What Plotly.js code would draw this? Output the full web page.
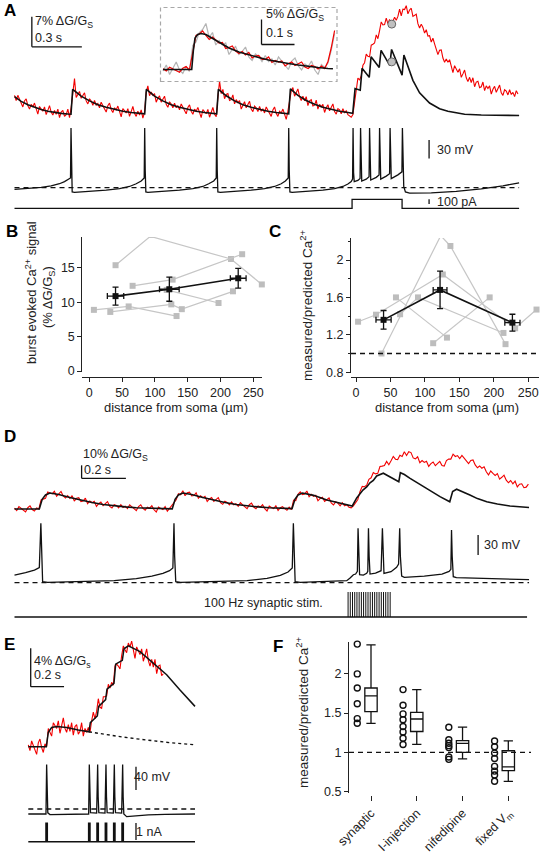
<!DOCTYPE html>
<html><head><meta charset="utf-8">
<script src="https://cdn.plot.ly/plotly-3.0.1.min.js"></script>
<style>html,body{margin:0;padding:0;background:#fff}#chart{width:540px;height:853px}</style>
</head><body><div id="chart"></div>
<script>
// ================= DATA =================
// ---- Panel A : calcium signal (% dG/Gs), sampled every aDt s ----
const aDt = 0.01;
const aRed = [4.7,3.5,4.7,3.7,2.9,2.0,3.4,3.9,2.3,1.5,2.6,2.0,2.9,1.3,0.3,2.1,1.5,1.0,2.0,0.2,1.2,2.3,0.8,0.1,1.2,0.3,1.5,-0.5,0.8,1.2,-0.2,0.2,1.5,-0.5,
 1.9,6.0,8.6,4.2,5.1,5.6,4.0,4.6,5.3,3.4,2.7,3.9,3.4,2.4,3.5,2.4,2.8,1.8,3.1,2.3,1.6,0.8,2.3,2.9,1.4,0.7,1.8,1.3,2.2,0.6,
 -0.3,1.6,1.0,0.6,1.6,-0.2,0.9,2.1,0.5,-0.2,1.0,0.1,1.3,-0.6,0.7,
 5.4,6.9,4.6,5.5,4.7,5.1,3.1,4.0,4.6,3.1,3.7,4.5,2.6,1.9,3.2,2.7,1.8,2.9,1.8,2.3,1.3,2.7,1.9,1.2,0.4,1.9,2.5,1.0,0.3,1.5,
 1.0,1.9,0.4,-0.5,1.4,0.8,0.4,1.4,-0.4,0.7,1.9,0.3,-0.3,
 4.1,8.0,5.1,6.1,3.9,4.9,5.1,3.5,3.7,4.8,2.7,3.7,3.0,3.5,1.5,2.6,3.2,1.8,2.4,3.3,1.5,0.9,2.2,1.8,0.9,2.1,1.0,1.5,0.6,2.0,
 1.2,0.5,-0.2,1.3,2.0,0.5,-0.2,1.0,0.6,1.5,0.0,-0.9,1.0,
 3.6,5.7,6.5,4.5,5.3,6.2,4.4,3.5,4.5,3.4,4.4,2.3,3.4,3.7,2.2,2.4,3.6,1.5,2.6,2.0,2.6,0.7,1.8,2.5,1.1,1.8,2.7,0.9,0.3,1.6,
 1.3,0.4,1.6,0.6,1.1,0.2,-0.2,-0.4,0.2,
 3.4,6.5,8.7,8.3,9.2,11.7,12.3,14.3,13.8,13.7,16.4,16.6,16.9,18.8,17.9,19.8,21.8,21.1,21.2,22.7,
 21.4,22.4,20.4,22.0,22.9,22.2,23.1,24.8,23.2,24.8,24.7,25.6,23.7,24.6,25.0,23.1,23.3,23.6,21.4,20.4,
 21.3,20.5,19.2,20.0,18.5,18.6,17.1,18.0,16.7,15.5,14.2,15.2,15.3,13.4,12.4,13.2,12.4,13.0,11.1,10.0,
 11.6,10.8,10.1,10.9,8.9,9.7,10.6,8.8,7.9,8.9,7.7,8.8,6.7,7.8,8.0,6.5,6.7,7.8,5.8,6.9,
 6.3,6.9,5.0,6.1,6.8,5.4,6.2,7.1,5.3,4.7,6.0,5.7,4.8,6.0,4.9,5.4,4.4,5.8,5.0];
// model prediction [time s, % dG/Gs]
const aModel = [[0,4.4],[0.04,3.3],[0.08,2.5],[0.12,1.9],[0.16,1.4],[0.2,1.0],[0.24,0.7],[0.28,0.5],[0.32,0.35],[0.339,0.3],
 [0.349,6.1],[0.4,4.5],[0.45,3.4],[0.5,2.5],[0.55,1.9],[0.6,1.4],[0.65,1.0],[0.7,0.7],[0.75,0.5],[0.781,0.4],
 [0.791,6.1],[0.84,4.5],[0.89,3.4],[0.94,2.5],[0.99,1.9],[1.04,1.4],[1.09,1.0],[1.14,0.7],[1.19,0.5],[1.213,0.4],
 [1.223,6.1],[1.27,4.6],[1.32,3.4],[1.37,2.5],[1.42,1.9],[1.47,1.4],[1.52,1.0],[1.57,0.7],[1.62,0.5],[1.645,0.4],
 [1.655,6.2],[1.70,4.7],[1.75,3.5],[1.80,2.6],[1.85,1.9],[1.90,1.4],[1.95,1.0],[2.0,0.7],[2.029,0.5],
 [2.043,6.3],[2.074,5.9],[2.085,11.0],[2.128,8.9],[2.139,13.7],[2.188,11.2],[2.199,15.2],[2.251,11.7],[2.262,15.4],
 [2.325,9.4],[2.336,14.1],[2.36,11.6],[2.39,8.2],[2.43,5.3],[2.49,2.9],[2.55,1.6],[2.6,1.0],[2.7,0.3],[2.8,0.1],[3.027,0]];
const aCircleT = [2.263, 2.263];
const aCircleV = [21.3, 12.5];
// membrane potential [s, mV]
const aVm = [[0,-72.6],[0.08,-71.5],[0.16,-69.5],[0.22,-67],[0.27,-63.5],[0.30,-60],[0.325,-56.5],[0.336,-54],[0.339,28],[0.342,-40],[0.346,-77],
 [0.36,-77.5],[0.45,-76],[0.55,-74],[0.63,-71.5],[0.69,-68],[0.73,-63.5],[0.76,-59],[0.778,-54],[0.781,28],[0.784,-40],[0.788,-77],
 [0.80,-77.5],[0.89,-76],[0.99,-74],[1.07,-71.5],[1.13,-68],[1.165,-63.5],[1.195,-59],[1.21,-54],[1.213,28],[1.216,-40],[1.22,-77],
 [1.235,-77.5],[1.32,-76],[1.42,-74],[1.50,-71.5],[1.56,-68],[1.60,-63.5],[1.625,-59],[1.642,-54],[1.645,28],[1.648,-40],[1.652,-77],
 [1.665,-77.5],[1.75,-76],[1.85,-74],[1.92,-71.5],[1.97,-68],[2.0,-64],[2.02,-60],[2.028,-56],[2.031,28],[2.034,-45],[2.038,-60],
 [2.06,-58],[2.073,-55],[2.076,28],[2.079,-45],[2.083,-59],[2.11,-56],[2.127,-52],[2.130,28],[2.133,-45],[2.137,-57.5],
 [2.17,-53],[2.187,-49],[2.190,28],[2.193,-44],[2.197,-56],[2.23,-51],[2.25,-47],[2.253,28],[2.256,-43],[2.260,-55],
 [2.30,-49],[2.324,-44],[2.327,28],[2.330,-40],[2.335,-68],[2.345,-77],[2.37,-79],[2.5,-78.5],[2.65,-76],[2.8,-72],[2.93,-67],[3.027,-62]];
const aRest = -70;
// injected current [s, pA]
const aI = [[0,0],[2.025,0],[2.025,190],[2.325,190],[2.325,0],[3.027,0]];
// ---- Panel A inset (single spike, % dG/Gs, every inDt s) ----
const inDt = 0.01;
const inRed = [0.15,-0.3,0.45,0.1,-0.2,-0.55,0.25,0.6,-0.1,3.4,6.8,7.1,7.7,6.8,6.0,6.5,5.9,5.3,5.4,4.2,4.4,4.7,3.7,3.2,3.6,2.9,3.4,2.3,2.7,2.8,
 2.0,2.0,2.5,1.4,1.8,1.5,1.7,0.7,1.2,1.5,0.8,1.1,1.5,0.5,0.2,0.8,0.6,0.1,0.7,0.2,1.6,4.4,7.8];
const inGray = [-0.3,0.9,-1.0,0.2,1.5,-0.1,-0.8,0.6,-0.4,4.8,5.5,7.4,8.0,9.2,6.4,7.4,4.9,5.8,4.9,5.3,3.0,4.0,4.6,3.0,3.6,4.5,2.5,1.8,3.1,2.6,
 1.6,2.8,1.6,2.1,0.9,2.5,1.6,0.9,0.0,1.7,2.3,0.7,-0.1,1.1,0.6,1.7,-0.1,-1.0,1.0,0.4,1.3,3.9,7.2];
const inModel = [[0,0],[0.087,0],[0.092,3.8],[0.097,6.3],[0.105,7.0],[0.115,7.2],[0.13,7.0],[0.15,6.2],[0.175,5.2],[0.2,4.3],[0.23,3.5],
 [0.26,2.9],[0.29,2.4],[0.32,1.9],[0.35,1.5],[0.38,1.2],[0.41,0.9],[0.44,0.6],[0.47,0.4],[0.5,0.2],[0.515,0.15]];
// ---- Panel B : burst evoked Ca signal vs distance ----
const bCellsX = [[40,93,216,263],[66,127,233],[7,60,133],[32,125,141,219],[118,197]];
const bCellsY = [[15.4,19.6,16.3,12.6],[12.4,13.3,17.0],[8.9,9.4,8.0],[8.6,9.7,9.0,11.6],[11.8,9.9]];
const bMeanX = [40,122,227];
const bMeanY = [10.9,11.9,13.5];
const bErrY = [1.3,1.75,1.45];
const bErrX = [12.5,15,12];
// ---- Panel C : measured/predicted vs distance ----
const cCellsX = [[3,29,126,231,262],[37,123,137,217],[58,132],[64,90,214],[112,194]];
const cCellsY = [[1.34,1.415,1.845,1.27,1.47],[1.0,2.26,2.15,1.10],[1.60,1.17],[1.42,1.60,1.22],[1.11,1.60]];
const cMeanX = [40,122,227];
const cMeanY = [1.36,1.68,1.33];
const cErrY = [0.1,0.2,0.09];
const cErrX = [11,10,11];
// ---- Panel D : synaptic stimulation ----
const dDt = 0.01;
const dRed = [0.6,-1.2,1.8,0.4,-0.8,-2.2,1.0,2.4,-0.4,-1.6,0.8,0.0,
 7.0,7.5,8.2,13.0,12.5,11.6,13.6,9.8,11.6,13.5,10.0,8.4,10.3,8.1,10.3,6.1,8.3,8.7,5.7,6.1,
 8.3,4.1,6.2,4.8,5.9,2.0,4.1,5.4,2.5,3.9,5.7,2.0,0.8,3.4,2.7,0.9,3.3,1.2,2.2,0.3,
 3.2,1.7,0.3,-1.2,1.9,3.3,0.4,-0.9,1.4,0.6,2.5,-0.6,-2.3,1.5,0.5,-0.4,1.8,-1.7,0.5,2.9,
 4.8,7.1,11.8,11.0,14.1,10.2,12.6,13.0,10.0,10.3,12.4,8.2,10.1,8.7,9.7,5.7,7.7,8.9,5.9,7.1,
 8.7,4.9,3.6,6.0,5.1,3.2,5.5,3.2,4.1,2.1,4.9,3.2,1.8,0.2,3.3,4.5,1.5,0.2,2.4,1.5,
 3.4,0.3,-1.5,2.2,1.1,0.3,2.4,-1.1,1.0,1.8,0.3,-1.0,1.4,-0.5,
 6.8,6.5,11.4,13.2,11.1,11.6,13.8,9.4,11.3,9.7,10.5,6.3,8.1,9.1,5.9,7.0,8.5,4.6,3.1,5.5,4.5,2.5,4.8,2.4,3.3,1.3,0.9,
 2.4,5.2,7.3,13.5,17.4,17.1,18.4,22.8,24.0,28.0,27.0,27.4,32.7,33.0,33.4,36.6,34.0,37.1,40.4,38.3,
 38.0,41.3,40.4,44.0,41.2,44.1,43.4,39.3,38.6,40.2,35.6,37.3,35.8,36.7,32.8,34.9,36.2,33.3,34.7,36.6,
 33.4,33.0,37.2,38.4,38.4,42.2,40.4,41.1,38.8,41.2,39.2,37.2,35.0,37.3,37.7,33.9,31.7,33.1,31.4,32.5,
 28.6,26.2,29.2,27.4,25.8,27.2,23.0,24.4,26.0,22.2,20.2,21.9,19.4,21.4,17.0,19.1,19.4,16.4,16.8,19.1];
const dModel = [[0,0],[0.112,0],[0.125,7.5],[0.14,10.8],[0.16,12.3],[0.2,11.2],[0.25,8.9],[0.3,6.9],[0.35,5.0],[0.4,3.5],[0.45,2.4],
 [0.5,1.6],[0.55,1.0],[0.6,0.6],[0.65,0.3],[0.712,0.1],[0.725,7.5],[0.74,10.8],[0.76,12.3],[0.8,11.2],[0.85,8.9],[0.9,6.9],
 [0.95,5.0],[1.0,3.5],[1.05,2.4],[1.1,1.6],[1.15,1.0],[1.2,0.6],[1.253,0.3],[1.266,7.5],[1.28,10.8],[1.30,12.3],[1.35,10.5],
 [1.41,6.9],[1.47,4.2],[1.525,2.3],[1.545,8.5],[1.56,11.5],[1.573,14.6],[1.59,17.0],[1.605,20.2],[1.62,22.0],[1.635,25.4],
 [1.665,27.5],[1.70,24.0],[1.735,21.0],[1.742,27.9],[1.76,26.5],[1.786,23.6],[1.82,20.0],[1.861,15.9],[1.921,9.5],[1.965,5.6],
 [1.978,13.5],[1.996,15.2],[2.03,13.0],[2.056,10.8],[2.09,8.0],[2.132,5.6],[2.18,3.8],[2.237,2.3],[2.323,1.2]];
const dVm = [[0,-58.5],[0.05,-55],[0.09,-51],[0.112,-47.5],[0.119,19],[0.122,-30],[0.127,-68.5],[0.15,-69.5],[0.3,-68.5],[0.45,-67],
 [0.55,-64],[0.62,-60],[0.67,-56],[0.70,-52],[0.715,-48],[0.720,19],[0.723,-30],[0.728,-68.5],[0.75,-69.5],[0.9,-68.5],[1.05,-67],
 [1.14,-63.5],[1.2,-59],[1.235,-54],[1.254,-48],[1.259,19],[1.262,-30],[1.267,-68.5],[1.29,-69.5],[1.4,-68.5],[1.5,-67],[1.515,-63],
 [1.53,-58],[1.54,-57],[1.548,-53],[1.551,11.6],[1.554,-30],[1.558,-58],[1.575,-58.5],[1.59,-56],[1.595,-53],[1.598,11.6],[1.601,-30],
 [1.605,-57],[1.63,-55.5],[1.655,-52],[1.661,11.6],[1.664,-30],[1.668,-56],[1.70,-53.5],[1.725,-47],[1.734,-42],[1.739,11.6],
 [1.742,-30],[1.748,-60],[1.76,-62],[1.85,-60],[1.93,-57],[1.962,-53],[1.970,-50],[1.973,9],[1.976,-30],[1.981,-61],[1.995,-62.5],
 [2.1,-63.5],[2.2,-64.5],[2.323,-65.5]];
const dRest = -70;
const dStimTimes = [1.506,1.516,1.526,1.536,1.546,1.556,1.566,1.576,1.586,1.596,1.606,1.616,1.626,1.636,1.646,1.656,1.666,1.676,1.686,1.696];
const dStimBase = [[0,0],[2.314,0]];
// ---- Panel E : current injection ----
const eDt = 0.01;
const eRed = [0.2,-0.4,0.6,0.1,-0.3,-0.8,0.4,0.8,-0.1,-0.6,0.3,0.0,
 1.9,1.5,1.1,2.5,2.2,1.9,2.7,1.4,2.2,3.0,1.9,1.5,2.3,1.6,2.5,1.2,2.1,2.3,1.3,1.6,2.5,1.1,1.9,1.5,2.0,
 1.5,2.7,3.6,2.9,3.7,5.0,4.1,4.0,5.2,5.2,5.3,6.5,6.1,6.7,6.4,8.4,8.6,8.4,8.1,9.5,10.5,10.1,9.8,10.8,
 10.4,11.0,9.9,9.2,10.4,10.0,9.6,10.2,8.9,9.5,10.2,9.0,8.4,9.1,8.3,9.1,7.6,8.4,8.5,7.4,7.6];
const eModel = [[0,0],[0.108,0],[0.12,1.5],[0.14,2.0],[0.17,2.1],[0.23,2.0],[0.3,1.75],[0.364,1.55],[0.372,2.5],[0.414,3.2],[0.422,4.2],
 [0.464,4.9],[0.472,6.0],[0.514,6.6],[0.524,8.6],[0.564,9.0],[0.574,10.2],[0.6,10.5],[0.67,9.9],[0.75,8.7],[0.83,7.5],[0.91,5.9],[1.0,4.2]];
const eSingle = [[0.364,1.55],[0.45,1.3],[0.55,1.05],[0.65,0.82],[0.75,0.6],[0.85,0.42],[1.0,0.2]];
const eVm = [[0,-70],[0.106,-70],[0.110,15],[0.113,-40],[0.117,-68],[0.13,-71],[0.2,-70.5],[0.362,-70],[0.366,15],[0.369,-40],[0.373,-67.5],
 [0.41,-68.5],[0.416,15],[0.419,-40],[0.423,-67.5],[0.46,-68.5],[0.466,15],[0.469,-40],[0.473,-67.5],[0.51,-68.5],[0.516,15],[0.519,-40],
 [0.523,-67.5],[0.56,-68.5],[0.566,15],[0.569,-40],[0.573,-70],[0.59,-74.5],[0.64,-73],[0.72,-71.5],[0.82,-70.5],[1.0,-70]];
const eRef = -61.4;
const ePulseOn = [0.106,0.362,0.412,0.462,0.512,0.562];
const ePulseAmp = 1.08;   // nA
const ePulseDur = 0.008;  // s
const eEnd = 1.0;
// ---- Panel F : measured/predicted per condition ----
const fCats = ['synaptic','I-injection','nifedipine','fixed V<sub>m</sub>'];
const fPoints = [[2.38,2.0,1.82,1.62,1.43,1.37],[1.8,1.6,1.49,1.415,1.33,1.26,1.18,1.10],[1.32,1.16,1.115,1.085,1.06,0.94,0.91],[1.145,1.07,0.99,0.92,0.82,0.76,0.71,0.63]];
const fLow = [1.37,1.10,0.915,0.63];
const fQ1 = [1.52,1.265,1.0,0.765];
const fMed = [1.72,1.425,1.115,0.815];
const fQ3 = [1.82,1.51,1.15,1.02];
const fHigh = [2.37,1.80,1.32,1.145];

// ================= DRAWING =================
const W=540, H=853;
const FONT='Liberation Sans, Arial, sans-serif';
const RED='#f20000', BLK='#111111', GR='#bdbdbd';
const xd=(a,b)=>[a/W,b/W];
const yd=(a,b)=>[1-b/H,1-a/H];
const xr=(a,b,o,s,v=0)=>[v+(a-o)/s, v+(b-o)/s];
const yr=(a,b,o,s,v=0)=>[v+(o-b)/s, v+(o-a)/s];
const hid=(dom,rng,anchor)=>({domain:dom,range:rng,anchor:anchor,visible:false,fixedrange:true,showgrid:false,zeroline:false});
const tU=(arr,dt)=>arr.map((_,i)=>+(i*dt).toFixed(4));
const c0=p=>p.map(q=>q[0]), c1=p=>p.map(q=>q[1]);
const traces=[];
function ln(x,y,xa,ya,color,width,dash){traces.push({type:'scatter',mode:'lines',x:x,y:y,xaxis:xa,yaxis:ya,
  line:{color:color,width:width,dash:dash||'solid'},hoverinfo:'skip',showlegend:false,cliponaxis:false});}

// A
ln(tU(aRed,aDt),aRed,'x','y',RED,1.1);
ln(c0(aModel),c1(aModel),'x','y',BLK,1.6);
traces.push({type:'scatter',mode:'markers',x:aCircleT,y:aCircleV,xaxis:'x',yaxis:'y',showlegend:false,
  marker:{size:8,color:'#c0c0c0',line:{color:'#666',width:1}}});
ln(c0(aVm),c1(aVm),'x','y2',BLK,1.3);
ln(c0(aI),c1(aI),'x','y3',BLK,1.3);
// inset
ln(tU(inGray,inDt),inGray,'x2','y4','#b4b4b4',1.2);
ln(tU(inRed,inDt),inRed,'x2','y4',RED,1.2);
ln(c0(inModel),c1(inModel),'x2','y4',BLK,1.6);
// B & C
function scatterPanel(cx,cy,mx,my,ex,ey,xa,ya){
  cx.forEach((xs,i)=>traces.push({type:'scatter',mode:'lines+markers',x:xs,y:cy[i],xaxis:xa,yaxis:ya,showlegend:false,cliponaxis:false,
    line:{color:'#c6c6c6',width:1.2},marker:{symbol:'square',size:6,color:GR}}));
  traces.push({type:'scatter',mode:'lines+markers',x:mx,y:my,xaxis:xa,yaxis:ya,showlegend:false,cliponaxis:false,
    line:{color:BLK,width:1.6},marker:{symbol:'square',size:6,color:BLK},
    error_y:{type:'data',array:ey,color:BLK,thickness:1.3,width:3},
    error_x:{type:'data',array:ex,color:BLK,thickness:1.3,width:3}});
}
scatterPanel(bCellsX,bCellsY,bMeanX,bMeanY,bErrX,bErrY,'x3','y5');
scatterPanel(cCellsX,cCellsY,cMeanX,cMeanY,cErrX,cErrY,'x4','y6');
// D
ln(tU(dRed,dDt),dRed,'x5','y7',RED,1.1);
ln(c0(dModel),c1(dModel),'x5','y7',BLK,1.6);
ln(c0(dVm),c1(dVm),'x5','y8',BLK,1.3);
const sx=[],sy=[];dStimTimes.forEach(t=>{sx.push(t,t,null);sy.push(0,1,null);});
ln(sx,sy,'x5','y9',BLK,1);
ln(c0(dStimBase),c1(dStimBase),'x5','y9',BLK,1.3);
// E
ln(tU(eRed,eDt),eRed,'x6','y10',RED,1.1);
ln(c0(eModel),c1(eModel),'x6','y10',BLK,1.5);
ln(c0(eSingle),c1(eSingle),'x6','y10',BLK,1.4,'dot');
ln(c0(eVm),c1(eVm),'x6','y11',BLK,1.3);
const eix=[0],eiy=[0];ePulseOn.forEach(t=>{eix.push(t,t,t+ePulseDur,t+ePulseDur);eiy.push(0,ePulseAmp,ePulseAmp,0);});eix.push(eEnd);eiy.push(0);
ln(eix,eiy,'x6','y12',BLK,1.5);
// F
fCats.forEach((c,i)=>{
  traces.push({type:'box',x:[i],q1:[fQ1[i]],median:[fMed[i]],q3:[fQ3[i]],lowerfence:[fLow[i]],upperfence:[fHigh[i]],
    xaxis:'x7',yaxis:'y13',width:0.27,whiskerwidth:0.75,fillcolor:'#fff',line:{color:BLK,width:1.3},boxpoints:false,showlegend:false,hoverinfo:'skip'});
  traces.push({type:'scatter',mode:'markers',x:fPoints[i].map(()=>i-0.3),y:fPoints[i],xaxis:'x7',yaxis:'y13',showlegend:false,cliponaxis:false,
    marker:{symbol:'circle-open',size:6,color:BLK,line:{width:1.4,color:BLK}}});
});

// axes
const tf={family:FONT,size:12.5,color:'#222'};
const vis=(o)=>Object.assign({showgrid:false,zeroline:false,showline:true,linecolor:'#222',linewidth:1,ticks:'outside',ticklen:4,
  tickwidth:1,tickcolor:'#222',tickfont:tf,fixedrange:true},o);
const layout={width:W,height:H,margin:{l:0,r:0,t:0,b:0},paper_bgcolor:'#fff',plot_bgcolor:'rgba(0,0,0,0)',showlegend:false,
  font:{family:FONT,size:13,color:'#222'},
  xaxis:hid(xd(0,540),xr(0,540,14.5,166.7),'y'),
  yaxis:hid(yd(0,130),yr(0,130,115.5,4.29),'x'),
  yaxis2:hid(yd(120,200),yr(120,200,187.7,0.61,-70),'x'),
  yaxis3:hid(yd(195,215),yr(195,215,208.3,0.047),'x'),
  xaxis2:hid(xd(160,337),xr(160,337,163,330),'y4'),
  yaxis4:hid(yd(8,81),yr(8,81,69.5,5),'x2'),
  xaxis3:vis({domain:xd(82.3,262),range:xr(82.3,262,89.3,0.656),anchor:'free',position:1-377/H,tickvals:[0,50,100,150,200,250]}),
  yaxis5:vis({domain:yd(237,372),range:yr(237,372,371,6.87),anchor:'x3',tickvals:[0,5,10,15]}),
  xaxis4:vis({domain:xd(351,539),range:xr(351,539,356,0.689),anchor:'free',position:1-377/H,tickvals:[0,50,100,150,200,250]}),
  yaxis6:vis({domain:yd(238,373),range:yr(238,373,260,93.5,2),anchor:'x4',tickvals:[0.8,1.2,1.6,2],ticktext:['0.8','1.2','1.6','2'],
    minor:{tickvals:[1.0,1.4,1.8,2.2],ticks:'outside',ticklen:2,tickcolor:'#222'}}),
  xaxis5:hid(xd(0,540),xr(0,540,14.5,221.5),'y7'),
  yaxis7:hid(yd(440,516),yr(440,516,509,1.3),'x5'),
  yaxis8:hid(yd(515,590),yr(515,590,582.7,0.667,-70),'x5'),
  yaxis9:hid(yd(586,621),yr(586,621,617,25),'x5'),
  xaxis6:hid(xd(0,270),xr(0,270,28.3,166.7),'y10'),
  yaxis10:hid(yd(640,760),yr(640,760,746.7,9.6),'x6'),
  yaxis11:hid(yd(758,822),yr(758,822,814,0.583,-70),'x6'),
  yaxis12:hid(yd(818,848),yr(818,848,841.7,17),'x6'),
  xaxis7:vis({domain:xd(349,531),range:xr(349,531,371,45.77),anchor:'free',position:1-795/H,showline:false,ticklen:5,
    tickvals:[0,1,2,3],ticktext:fCats,tickangle:-45,tickfont:{family:FONT,size:12.5,color:'#222'}}),
  yaxis13:vis({domain:yd(641.7,792.7),range:yr(641.7,792.7,752.3,78.4,1),anchor:'x7',tickvals:[0.5,1,1.5,2],ticktext:['0.5','1','1.5','2']}),
};
// scale bars & reference lines
const S=[];
const seg=(xref,yref,x0,y0,x1,y1,w,dash,color)=>S.push({type:'line',xref:xref,yref:yref,x0:x0,y0:y0,x1:x1,y1:y1,
  line:{color:color||BLK,width:w||1.3,dash:dash||'solid'}});
seg('x','y',0.104,16,0.104,23); seg('x','y',0.104,16,0.404,16);
seg('x2','y4',0.2985,5,0.2985,10); seg('x2','y4',0.2985,5,0.3985,5);
S.push({type:'rect',xref:'paper',yref:'paper',x0:160.5/W,x1:337/W,y0:1-81.5/H,y1:1-7.5/H,line:{color:'#a8a8a8',width:1.2,dash:'4px,3px'}});
seg('x','y2',2.487,-22,2.487,8); seg('x','y3',2.487,90,2.487,190);
seg('x','y2',0,aRest,3.027,aRest,1.3,'5px,4px');
seg('x4 domain','y6',0,1,1,1,1.3,'5px,4px');
seg('x5','y7',0.303,23.6,0.303,33.6); seg('x5','y7',0.303,23.6,0.503,23.6);
seg('x5','y8',2.093,-28.5,2.093,1.5);
seg('x5','y8',0,dRest,2.323,dRest,1.3,'5px,4px');
seg('x6','y10',0.0144,6.25,0.0144,10.25); seg('x6','y10',0.0144,6.25,0.2144,6.25);
seg('x6','y11',0.646,-28.8,0.646,11.2); seg('x6','y12',0.646,0.1,0.646,1.1);
seg('x6','y11',0,eRef,eEnd,eRef,1.3,'5px,4px');
seg('x7 domain','y13',0,1,1,1,1.3,'5px,4px');
layout.shapes=S;
// text
const A=[];
const ann=(t,x,y,o)=>A.push(Object.assign({text:t,x:x/W,y:1-y/H,xref:'paper',yref:'paper',showarrow:false,xanchor:'left',yanchor:'middle',
  font:{family:FONT,size:12.5,color:'#222'}},o||{}));
const bold={font:{family:FONT,size:17,color:'#000',weight:'bold'}};
ann('<b>A</b>',2,10,bold); ann('<b>B</b>',4,231,bold); ann('<b>C</b>',267,231,bold);
ann('<b>D</b>',2,436,bold); ann('<b>E</b>',2,644,bold); ann('<b>F</b>',271,646,bold);
ann('7% ΔG/G<sub>S</sub>',33,22); ann('0.3 s',33,37.5);
ann('5% ΔG/G<sub>S</sub>',264,15.5); ann('0.1 s',264,33);
ann('30 mV',435,150); ann('100 pA',435,202);
ann('10% ΔG/G<sub>S</sub>',81,454.5); ann('0.2 s',81.5,470);
ann('30 mV',482,545);
ann('100 Hz synaptic stim.',263,603,{xanchor:'center'});
ann('4% ΔG/G<sub>s</sub>',31.5,662); ann('0.2 s',31.5,675);
ann('40 mV',132,777); ann('1 nA',134,832);
const at={family:FONT,size:13,color:'#222'};
ann('distance from soma (µm)',176,407,{xanchor:'center',font:at});
ann('distance from soma (µm)',447,407,{xanchor:'center',font:at});
ann('burst evoked Ca<sup>2+</sup> signal',31,293,{xanchor:'center',textangle:-90,font:at});
ann('(% ΔG/G<sub>S</sub>)',49,297,{xanchor:'center',textangle:-90,font:at});
ann('measured/predicted Ca<sup>2+</sup>',306,305,{xanchor:'center',textangle:-90,font:{family:FONT,size:13.5,color:'#222'}});
ann('measured/predicted Ca<sup>2+</sup>',302,712,{xanchor:'center',textangle:-90,font:{family:FONT,size:13.5,color:'#222'}});
layout.annotations=A;
Plotly.newPlot('chart',traces,layout,{staticPlot:true,displayModeBar:false});
</script></body></html>
